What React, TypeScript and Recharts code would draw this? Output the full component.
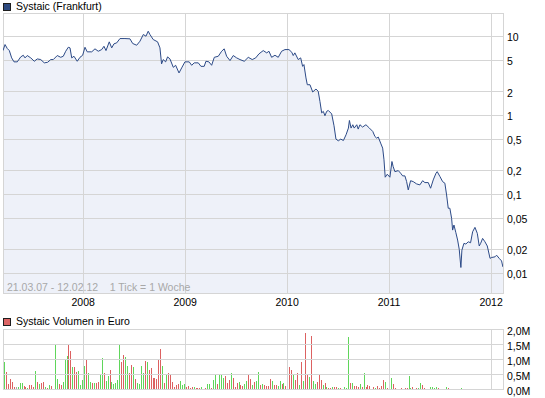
import React from 'react';
import {
  ComposedChart,
  Area,
  Line,
  XAxis,
  YAxis,
  CartesianGrid,
  ReferenceArea,
  ReferenceLine,
  BarChart,
  Bar,
} from 'recharts';

const FONT = '"Liberation Sans", Arial, sans-serif';
const GRID = '#d5d5d5';

// Zeitraum 21.03.07 - 12.02.12 als Dezimaljahre, 1 Tick = 1 Woche
const PERIOD_START = 2007.214;
const PERIOD_END = 2012.117;
const WEEK = 7 / 365.25;

const yearTicks = [2008, 2009, 2010, 2011, 2012];
const priceTicks = [0.01, 0.02, 0.05, 0.1, 0.2, 0.5, 1, 2, 5, 10];
const volumeTicks = [0, 0.5, 1, 1.5, 2];

// Kurs (Frankfurt), Euro
const priceDates = [
  2007.214, 2007.234, 2007.256, 2007.276, 2007.299, 2007.322, 2007.354, 2007.388, 2007.413, 2007.43,
  2007.452, 2007.486, 2007.521, 2007.55, 2007.584, 2007.619, 2007.652, 2007.682, 2007.707, 2007.746,
  2007.78, 2007.805, 2007.829, 2007.854, 2007.871, 2007.888, 2007.91, 2007.942, 2007.969, 2007.995,
  2008.018, 2008.04, 2008.084, 2008.116, 2008.148, 2008.182, 2008.204, 2008.224, 2008.256, 2008.28,
  2008.302, 2008.329, 2008.361, 2008.41, 2008.459, 2008.486, 2008.525, 2008.557, 2008.59, 2008.616,
  2008.638, 2008.655, 2008.687, 2008.73, 2008.753, 2008.769, 2008.785, 2008.809, 2008.828, 2008.851,
  2008.884, 2008.907, 2008.94, 2008.966, 2008.998, 2009.04, 2009.064, 2009.089, 2009.129, 2009.155,
  2009.187, 2009.204, 2009.233, 2009.26, 2009.286, 2009.325, 2009.358, 2009.383, 2009.407, 2009.44,
  2009.472, 2009.505, 2009.538, 2009.58, 2009.619, 2009.658, 2009.692, 2009.724, 2009.766, 2009.8,
  2009.822, 2009.848, 2009.881, 2009.913, 2009.946, 2009.979, 2010.018, 2010.046, 2010.06, 2010.076,
  2010.109, 2010.133, 2010.152, 2010.165, 2010.185, 2010.198, 2010.224, 2010.251, 2010.283, 2010.305,
  2010.322, 2010.339, 2010.355, 2010.371, 2010.388, 2010.404, 2010.437, 2010.46, 2010.479, 2010.502,
  2010.526, 2010.552, 2010.578, 2010.601, 2010.611, 2010.627, 2010.644, 2010.658, 2010.683, 2010.697,
  2010.714, 2010.74, 2010.773, 2010.807, 2010.84, 2010.861, 2010.878, 2010.894, 2010.917, 2010.937,
  2010.95, 2010.962, 2010.982, 2011.008, 2011.028, 2011.04, 2011.057, 2011.09, 2011.113, 2011.133,
  2011.155, 2011.172, 2011.188, 2011.211, 2011.237, 2011.27, 2011.302, 2011.329, 2011.351, 2011.384,
  2011.407, 2011.433, 2011.46, 2011.472, 2011.499, 2011.525, 2011.547, 2011.564, 2011.58, 2011.596,
  2011.613, 2011.623, 2011.636, 2011.655, 2011.672, 2011.688, 2011.704, 2011.714, 2011.734, 2011.753,
  2011.776, 2011.799, 2011.819, 2011.842, 2011.865, 2011.884, 2011.898, 2011.917, 2011.94, 2011.963,
  2011.99, 2012.005, 2012.038, 2012.054, 2012.08, 2012.103, 2012.116,
];

const prices = [
  6.67, 7.96, 7.08, 6.67, 5.39, 4.8, 4.8, 5.55, 5.82, 5.39,
  5.77, 5.39, 4.88, 5.23, 5.13, 4.66, 4.74, 5.13, 5.13, 5.77,
  5.48, 5.65, 6.54, 7.35, 7.22, 5.39, 5.65, 4.88, 5.48, 5.82,
  7.35, 6.43, 6.43, 7.02, 6.54, 6.87, 7.57, 6.67, 8.61, 7.22,
  8.12, 8.36, 9.48, 9.48, 9.4, 8.2, 7.8, 8.77, 10.67, 10.15,
  11.75, 10.67, 9.21, 8.61, 7.22, 4.52, 5.13, 4.8, 5.55, 5.23,
  4.09, 4.34, 3.47, 4.02, 4.8, 4.8, 4.34, 4.66, 4.66, 4.21,
  4.21, 4.88, 4.8, 4.34, 5.48, 5.65, 6.54, 7.02, 5.65, 4.98,
  5.77, 5.39, 5.13, 4.88, 5.48, 5.13, 5.39, 6.06, 6.67, 6.24,
  6.54, 5.48, 5.82, 5.48, 6.54, 6.87, 6.87, 6.35, 5.77, 6.24,
  5.13, 5.39, 4.21, 4.43, 3.0, 2.46, 2.46, 1.99, 2.17, 2.03,
  1.51, 1.08, 1.13, 0.994, 1.13, 1.16, 1.05, 0.741, 0.502, 0.478,
  0.502, 0.482, 0.57, 0.693, 0.866, 0.693, 0.764, 0.693, 0.764, 0.673,
  0.764, 0.714, 0.764, 0.693, 0.628, 0.542, 0.517, 0.533, 0.447, 0.386,
  0.274, 0.165, 0.18, 0.165, 0.261, 0.225, 0.194, 0.2, 0.1855, 0.1715,
  0.1715, 0.145, 0.1138, 0.149, 0.145, 0.1356, 0.1318, 0.149, 0.141, 0.141,
  0.1196, 0.1525, 0.1855, 0.194, 0.168, 0.145, 0.1385, 0.0982, 0.0666, 0.0666,
  0.0497, 0.0352, 0.0408, 0.0326, 0.0263, 0.02, 0.0118, 0.0196, 0.0239, 0.0234,
  0.025, 0.0243, 0.0335, 0.0381, 0.032, 0.0221, 0.0239, 0.0276, 0.025, 0.0221,
  0.0154, 0.0158, 0.0161, 0.0169, 0.0154, 0.0143, 0.012,
];

// Wochenumsatz in Mio. Euro, ab 21.03.07
const volumes = [
  1.21, 0.9, 0.57, 0.17, 0.34, 0.23, 0.07, 0.09, 0.07, 0.2,
  0.2, 0.1, 0.06, 0.03, 0.13, 0.13, 0.07, 0.6, 0.23, 0.18,
  0.2, 0.23, 0.07, 0.03, 0.13, 0.1, 0.01, 1.47, 0.34, 0.17,
  0.13, 0.23, 0.97, 1.11, 1.51, 1.27, 0.74, 0.74, 0.57, 0.6,
  0.13, 0.3, 0.77, 1.01, 0.54, 0.23, 0.2, 0.2, 0.2, 0.23,
  0.47, 1.04, 0.54, 0.27, 0.44, 0.64, 0.23, 0.17, 0.2, 0.3,
  1.51, 0.9, 1.14, 1.07, 0.77, 0.54, 0.8, 0.74, 0.34, 0.2,
  0.17, 0.77, 0.54, 0.94, 0.9, 0.64, 0.7, 0.37, 0.37, 0.34,
  0.97, 1.34, 0.77, 0.2, 0.47, 0.54, 0.47, 0.23, 0.07, 0.13,
  0.17, 0.27, 0.13, 0.17, 0.07, 0.1, 0.03, 0.07, 0.07, 0.03,
  0.03, 0.03, 0.07, 0.01, 0.03, 0.17, 0.17, 0.03, 0.3, 0.47,
  0.17, 0.47, 0.47, 0.37, 0.44, 0.2, 0.3, 0.54, 0.37, 0.07,
  0.2, 0.23, 0.13, 0.1, 0.17, 0.27, 0.47, 0.34, 0.13, 0.23,
  0.27, 0.57, 0.13, 0.17, 0.13, 0.1, 0.1, 0.34, 0.27, 0.13,
  0.13, 0.1, 0.27, 0.17, 0.2, 0.1, 0.34, 0.74, 0.64, 0.5,
  0.3, 0.54, 0.13, 0.9, 0.27, 1.88, 0.5, 0.4, 1.78, 0.27,
  0.17, 0.23, 0.47, 0.3, 0.13, 0.2, 0.07, 0.03, 0.03, 0.07,
  0.07, 0.07, 0.03, 0.03, 0.01, 0.07, 0.03, 1.74, 0.2, 0.2,
  0.1, 0.1, 0.07, 0.17, 0.07, 0.54, 0.07, 0.13, 0.1, 0.01,
  0.07, 0.03, 0.1, 0.03, 0.1, 0.3, 0.23, 0.03, 0.03, 0.37,
  0.17, 0.03, 0.01, 0.01, 0.03, 0.01, 0.03, 0.03, 0.44, 0.03,
  0.07, 0.01, 0.03, 0.03, 0.2, 0.13, 0.03, 0.01, 0.01, 0.07,
  0.07, 0.03, 0.07, 0.03, 0, 0, 0, 0.07, 0.03, 0,
  0, 0, 0, 0, 0, 0.03, 0, 0, 0, 0,
  0, 0, 0, 0, 0, 0, 0, 0, 0, 0,
  0, 0, 0, 0, 0, 0,
];

// g = Kurs gestiegen, r = gefallen, n = unverändert
const volumeTrend = (
  'ngrrrrrngg' + 'grrgrrrgrg' + 'rrgrgrgggr' + 'rgggrrgrrg' + 'gggrggrgrr' +
  'ggrggrgggg' + 'grrggrrgrg' + 'gggrgrrrrr' + 'rrgrgrrrrr' + 'rgggrrrrgr' +
  'rrggrggrgg' + 'rgggrrrgrr' + 'rgrrggrrgr' + 'ggrgrrrrgr' + 'rggrgrrrrg' +
  'rrgrgrrgrg' + 'grrrgrgrrg' + 'rrgrggggrg' + 'rrrgrgrrrg' + 'rgrrrrgrgg' +
  'rrggrgrrgg' + 'rgrggrrggg' + 'gggrrgggrr' + 'gggggggggg' + 'gggggggggg' +
  'gggggg'
).split('');

const priceData = priceDates.map((t, i) => ({ t, kurs: prices[i] }));
const volumeData = volumes.map((v, i) => ({
  t: PERIOD_START + i * WEEK,
  up: volumeTrend[i] === 'g' ? v : 0,
  down: volumeTrend[i] === 'r' ? v : 0,
  flat: volumeTrend[i] === 'n' ? v : 0,
}));

const fmtPrice = (v: number) => String(v).replace('.', ',');
const fmtVolume = (v: number) => v.toFixed(1).replace('.', ',') + 'M';

const tickStyle = { fill: '#000', fontSize: 10.5, fontFamily: FONT };

// 1px breite Balken auf ganze Pixel gesetzt
function CrispBar(props: any) {
  const { x, y, width, height, fill } = props;
  if (!height || height <= 0) return <g />;
  const top = Math.round(y);
  const bottom = Math.round(y + height);
  if (bottom <= top) return <g />;
  return <rect x={Math.floor(x + width / 2)} y={top} width={1} height={bottom - top} fill={fill} />;
}

function LegendBox({ top, color, label }: { top: number; color: string; label: string }) {
  return (
    <>
      <div
        style={{
          position: 'absolute',
          left: 3,
          top: top + 3,
          width: 6,
          height: 6,
          background: color,
          border: '1px solid #1e1e1e',
        }}
      />
      <div style={{ position: 'absolute', left: 16, top, lineHeight: '12px', whiteSpace: 'nowrap' }}>
        {label}
      </div>
    </>
  );
}

export default function App() {
  return (
    <div
      style={{
        position: 'absolute',
        left: 0,
        top: 0,
        width: 545,
        height: 398,
        background: '#fff',
        fontFamily: FONT,
        fontSize: 10.5,
        color: '#000',
        overflow: 'hidden',
      }}
    >
      {/* Kurs */}
      <div style={{ position: 'absolute', left: 0, top: 0 }}>
        <ComposedChart
          width={545}
          height={310}
          data={priceData}
          margin={{ top: 13, right: 0, bottom: 0, left: 3 }}
        >
          <XAxis
            type="number"
            dataKey="t"
            domain={[PERIOD_START, PERIOD_END]}
            ticks={yearTicks}
            allowDataOverflow
            axisLine={false}
            tickLine={false}
            tickSize={0}
            tickMargin={6}
            height={17}
            tick={tickStyle}
          />
          <YAxis
            orientation="right"
            scale="log"
            domain={[0.0056, 20]}
            ticks={priceTicks}
            interval={0}
            allowDataOverflow
            tickFormatter={fmtPrice}
            axisLine={false}
            tickLine={false}
            tickSize={0}
            tickMargin={4}
            width={42}
            tick={{ ...tickStyle, dy: 1 }}
          />
          <CartesianGrid stroke={GRID} shapeRendering="crispEdges" />
          <Area
            type="linear"
            dataKey="kurs"
            stroke="none"
            fill="#eef1f9"
            fillOpacity={1}
            dot={false}
            activeDot={false}
            isAnimationActive={false}
          />
          {priceTicks.map((v) => (
            <ReferenceLine key={'p' + v} y={v} stroke={GRID} shapeRendering="crispEdges" />
          ))}
          {yearTicks.map((t) => (
            <ReferenceLine key={'y' + t} x={t} stroke={GRID} shapeRendering="crispEdges" />
          ))}
          <ReferenceArea
            x1={PERIOD_START}
            x2={PERIOD_END}
            y1={0.0056}
            y2={20}
            fill="none"
            stroke={GRID}
            shapeRendering="crispEdges"
          />
          <Line
            type="linear"
            dataKey="kurs"
            stroke="#2c4a87"
            strokeWidth={1}
            dot={false}
            activeDot={false}
            isAnimationActive={false}
          />
        </ComposedChart>
      </div>

      <div
        style={{
          position: 'absolute',
          left: 7,
          top: 281,
          lineHeight: '12px',
          color: '#a8a8a8',
          whiteSpace: 'pre',
        }}
      >
        {'21.03.07 - 12.02.12    1 Tick = 1 Woche'}
      </div>

      {/* Volumen */}
      <div style={{ position: 'absolute', left: 0, top: 310 }}>
        <BarChart
          width={545}
          height={88}
          data={volumeData}
          margin={{ top: 19.3, right: 0, bottom: 8.7, left: 3 }}
        >
          <XAxis
            type="number"
            dataKey="t"
            domain={[PERIOD_START, PERIOD_END]}
            ticks={yearTicks}
            allowDataOverflow
            hide
          />
          <YAxis
            orientation="right"
            domain={[0, 2]}
            ticks={volumeTicks}
            interval={0}
            allowDataOverflow
            tickFormatter={fmtVolume}
            axisLine={false}
            tickLine={false}
            tickSize={0}
            tickMargin={4}
            width={42}
            tick={{ ...tickStyle, dy: 1.5 }}
          />
          <CartesianGrid stroke={GRID} shapeRendering="crispEdges" />
          {volumeTicks.map((v) => (
            <ReferenceLine key={'v' + v} y={v} stroke={GRID} shapeRendering="crispEdges" />
          ))}
          {yearTicks.map((t) => (
            <ReferenceLine key={'y' + t} x={t} stroke={GRID} shapeRendering="crispEdges" />
          ))}
          <ReferenceArea
            x1={PERIOD_START}
            x2={PERIOD_END}
            y1={0}
            y2={2}
            fill="none"
            stroke={GRID}
            shapeRendering="crispEdges"
          />
          <Bar dataKey="up" stackId="vol" barSize={1} fill="#5fd65a" shape={CrispBar} isAnimationActive={false} />
          <Bar dataKey="down" stackId="vol" barSize={1} fill="#dc6161" shape={CrispBar} isAnimationActive={false} />
          <Bar dataKey="flat" stackId="vol" barSize={1} fill="#a8a8a8" shape={CrispBar} isAnimationActive={false} />
        </BarChart>
      </div>

      <LegendBox top={0} color="#2e4a80" label="Systaic (Frankfurt)" />
      <LegendBox top={315} color="#dc6464" label="Systaic Volumen in Euro" />
    </div>
  );
}
